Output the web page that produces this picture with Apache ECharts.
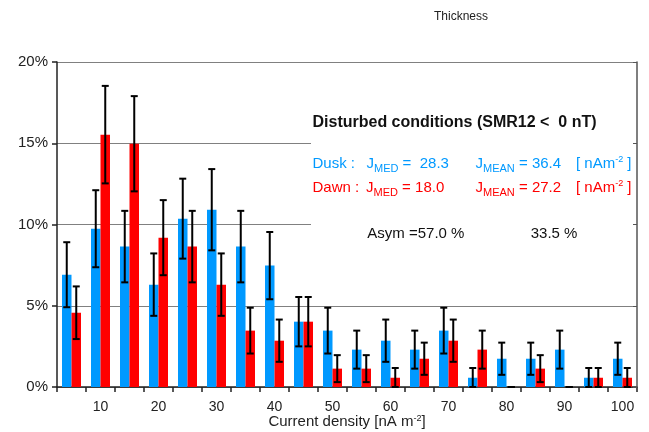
<!DOCTYPE html>
<html>
<head>
<meta charset="utf-8">
<script src="https://cdn.jsdelivr.net/npm/echarts@6/dist/echarts.min.js"></script>
<style>html,body{margin:0;padding:0;background:#fff}#c{width:649px;height:432px}</style>
</head>
<body>
<div id="c"></div>
<script>
// Bins of current density (nA m^-2), 5-wide bins; labels shown on every other bin
var categories = ['5','10','15','20','25','30','35','40','45','50','55','60','65','70','75','80','85','90','95','100'];
// Percent occurrence
var duskValues = [6.91, 9.74, 8.64, 6.30, 10.36, 10.91, 8.64, 7.47, 4.02, 3.47, 2.30, 2.85, 2.30, 3.47, 0.57, 1.74, 1.74, 2.30, 0.57, 1.74];
var dawnValues = [4.57, 15.53, 14.97, 9.19, 8.64, 6.30, 3.47, 2.85, 4.02, 1.13, 1.13, 0.57, 1.74, 2.85, 2.30, 0.00, 1.13, 0.00, 0.57, 0.57];
// Error half-widths (percent)
var duskErrors = [2.00, 2.37, 2.20, 1.92, 2.46, 2.50, 2.20, 2.07, 1.52, 1.41, 1.17, 1.30, 1.17, 1.41, 0.60, 0.99, 0.99, 1.17, 0.60, 0.99];
var dawnErrors = [1.62, 3.00, 2.93, 2.31, 2.20, 1.92, 1.41, 1.30, 1.52, 0.83, 0.83, 0.60, 0.99, 1.30, 1.17, 0.00, 0.83, 0.00, 0.60, 0.60];
var yTicks = [0, 5, 10, 15, 20];

var BLUE = '#0099ff', RED = '#ff0000';
var FONT = '"Liberation Sans", Arial, sans-serif';

function errData(vals, errs) {
  return vals.map(function (v, i) {
    return [i, Math.max(0, v - errs[i]), v + errs[i]];
  });
}
function errRender(offset) {
  return function (params, api) {
    var i = api.value(0), lo = api.value(1), hi = api.value(2);
    var pHi = api.coord([i, hi]), pLo = api.coord([i, lo]);
    var x = pHi[0] + offset, c = 3.5;
    var st = { stroke: '#000', lineWidth: 2 };
    return { type: 'group', children: [
      { type: 'line', shape: { x1: x, y1: pHi[1], x2: x, y2: pLo[1] }, style: st },
      { type: 'line', shape: { x1: x - c, y1: pHi[1], x2: x + c, y2: pHi[1] }, style: st },
      { type: 'line', shape: { x1: x - c, y1: pLo[1], x2: x + c, y2: pLo[1] }, style: st }
    ]};
  };
}

function richLine(x, y, color, parts) {
  return {
    type: 'text', x: x, y: y, z: 10,
    style: {
      text: parts, fill: color, font: '15px ' + FONT, verticalAlign: 'middle', align: 'left',
      rich: {
        m: { fontSize: 15, fontFamily: FONT, fill: color, lineHeight: 20, verticalAlign: 'middle' },
        s: { fontSize: 11, fontFamily: FONT, fill: color, lineHeight: 20, verticalAlign: 'bottom', padding: [0, 0, 0, 0] },
        u: { fontSize: 9, fontFamily: FONT, fill: color, lineHeight: 20, verticalAlign: 'top', padding: [1, 0, 0, 0] }
      }
    }
  };
}

var chart = echarts.init(document.getElementById('c'), null, { renderer: 'canvas' });
chart.setOption({
  animation: false,
  backgroundColor: '#fff',
  textStyle: { fontFamily: FONT },
  grid: { left: 57, right: 12, top: 62, bottom: 45, containLabel: false, outerBoundsMode: 'none' },
  xAxis: {
    type: 'category', data: categories, boundaryGap: true,
    axisLine: { lineStyle: { color: '#222', width: 1.5 } },
    axisTick: { show: true, interval: 0, alignWithLabel: false, length: 5, lineStyle: { color: '#222', width: 1.5 } },
    axisLabel: { interval: function (i) { return i % 2 === 1; }, color: '#222', fontSize: 14, margin: 13, fontFamily: FONT },
    name: '{a|Current density [nA m}{u|-2}{a|]}', nameLocation: 'middle', nameGap: 25, nameMoveOverlap: false,
    nameTextStyle: { color: '#222', fontSize: 15, fontFamily: FONT, verticalAlign: 'top', lineHeight: 20,
      rich: {
        a: { fontSize: 15, color: '#222', lineHeight: 20, verticalAlign: 'middle', fontFamily: FONT },
        u: { fontSize: 9, color: '#222', lineHeight: 20, verticalAlign: 'top', padding: [2, 0, 0, 0], fontFamily: FONT }
      } }
  },
  yAxis: [{
    type: 'value', min: 0, max: 20, interval: 5,
    axisLine: { show: true, lineStyle: { color: '#222', width: 1.5 } },
    axisTick: { show: true, length: 5, lineStyle: { color: '#222', width: 1.5 } },
    axisLabel: { formatter: '{value}%', color: '#222', fontSize: 15, margin: 9, fontFamily: FONT,
      customValues: yTicks },
    splitLine: { show: true, lineStyle: { color: '#808080', width: 1 } }
  }, {
    type: 'value', min: 0, max: 20, interval: 5, position: 'right', z: 5,
    axisLine: { show: true, lineStyle: { color: '#555', width: 1.5 } },
    axisTick: { show: true, inside: true, length: 4, lineStyle: { color: '#555' } },
    axisLabel: { show: false }, splitLine: { show: false }
  }],
  series: [
    { name: 'Dusk', type: 'bar', data: duskValues, barWidth: 9.5, barGap: '0%', itemStyle: { color: BLUE }, z: 2 },
    { name: 'Dawn', type: 'bar', data: dawnValues, barWidth: 9.5, barGap: '0%', itemStyle: { color: RED }, z: 2 },
    { type: 'custom', data: errData(duskValues, duskErrors), renderItem: errRender(-4.75), z: 4,
      encode: { x: 0, y: [1, 2] } },
    { type: 'custom', data: errData(dawnValues, dawnErrors), renderItem: errRender(4.75), z: 4,
      encode: { x: 0, y: [1, 2] } }
  ],
  graphic: { elements: [
    { type: 'rect', shape: { x: 311, y: 75, width: 325, height: 200 }, style: { fill: '#fff' }, z: 1 },
    { type: 'text', x: 461, y: 17, z: 10, style: { text: 'Thickness', font: '12px ' + FONT, fill: '#222', align: 'center', verticalAlign: 'middle' } },
    { type: 'text', x: 312.5, y: 123, z: 10, style: { text: 'Disturbed conditions (SMR12 <  0 nT)', font: 'bold 16px ' + FONT, fill: '#111', align: 'left', verticalAlign: 'middle' } },
    richLine(312.5, 164, BLUE, '{m|Dusk :}'),
    richLine(366.5, 164, BLUE, '{m|J}{s|MED}{m| =  28.3}'),
    richLine(475.5, 164, BLUE, '{m|J}{s|MEAN}{m| = 36.4}'),
    richLine(576, 164, BLUE, '{m|[ nAm}{u|-2}{m| ]}'),
    richLine(312.5, 188, RED, '{m|Dawn :}'),
    richLine(366, 188, RED, '{m|J}{s|MED}{m| = 18.0}'),
    richLine(475.5, 188, RED, '{m|J}{s|MEAN}{m| = 27.2}'),
    richLine(576, 188, RED, '{m|[ nAm}{u|-2}{m| ]}'),
    { type: 'text', x: 367.3, y: 234, z: 10, style: { text: 'Asym =57.0 %', font: '15px ' + FONT, fill: '#111', align: 'left', verticalAlign: 'middle' } },
    { type: 'text', x: 530.7, y: 234, z: 10, style: { text: '33.5 %', font: '15px ' + FONT, fill: '#111', align: 'left', verticalAlign: 'middle' } }
  ]}
});
</script>
</body>
</html>
